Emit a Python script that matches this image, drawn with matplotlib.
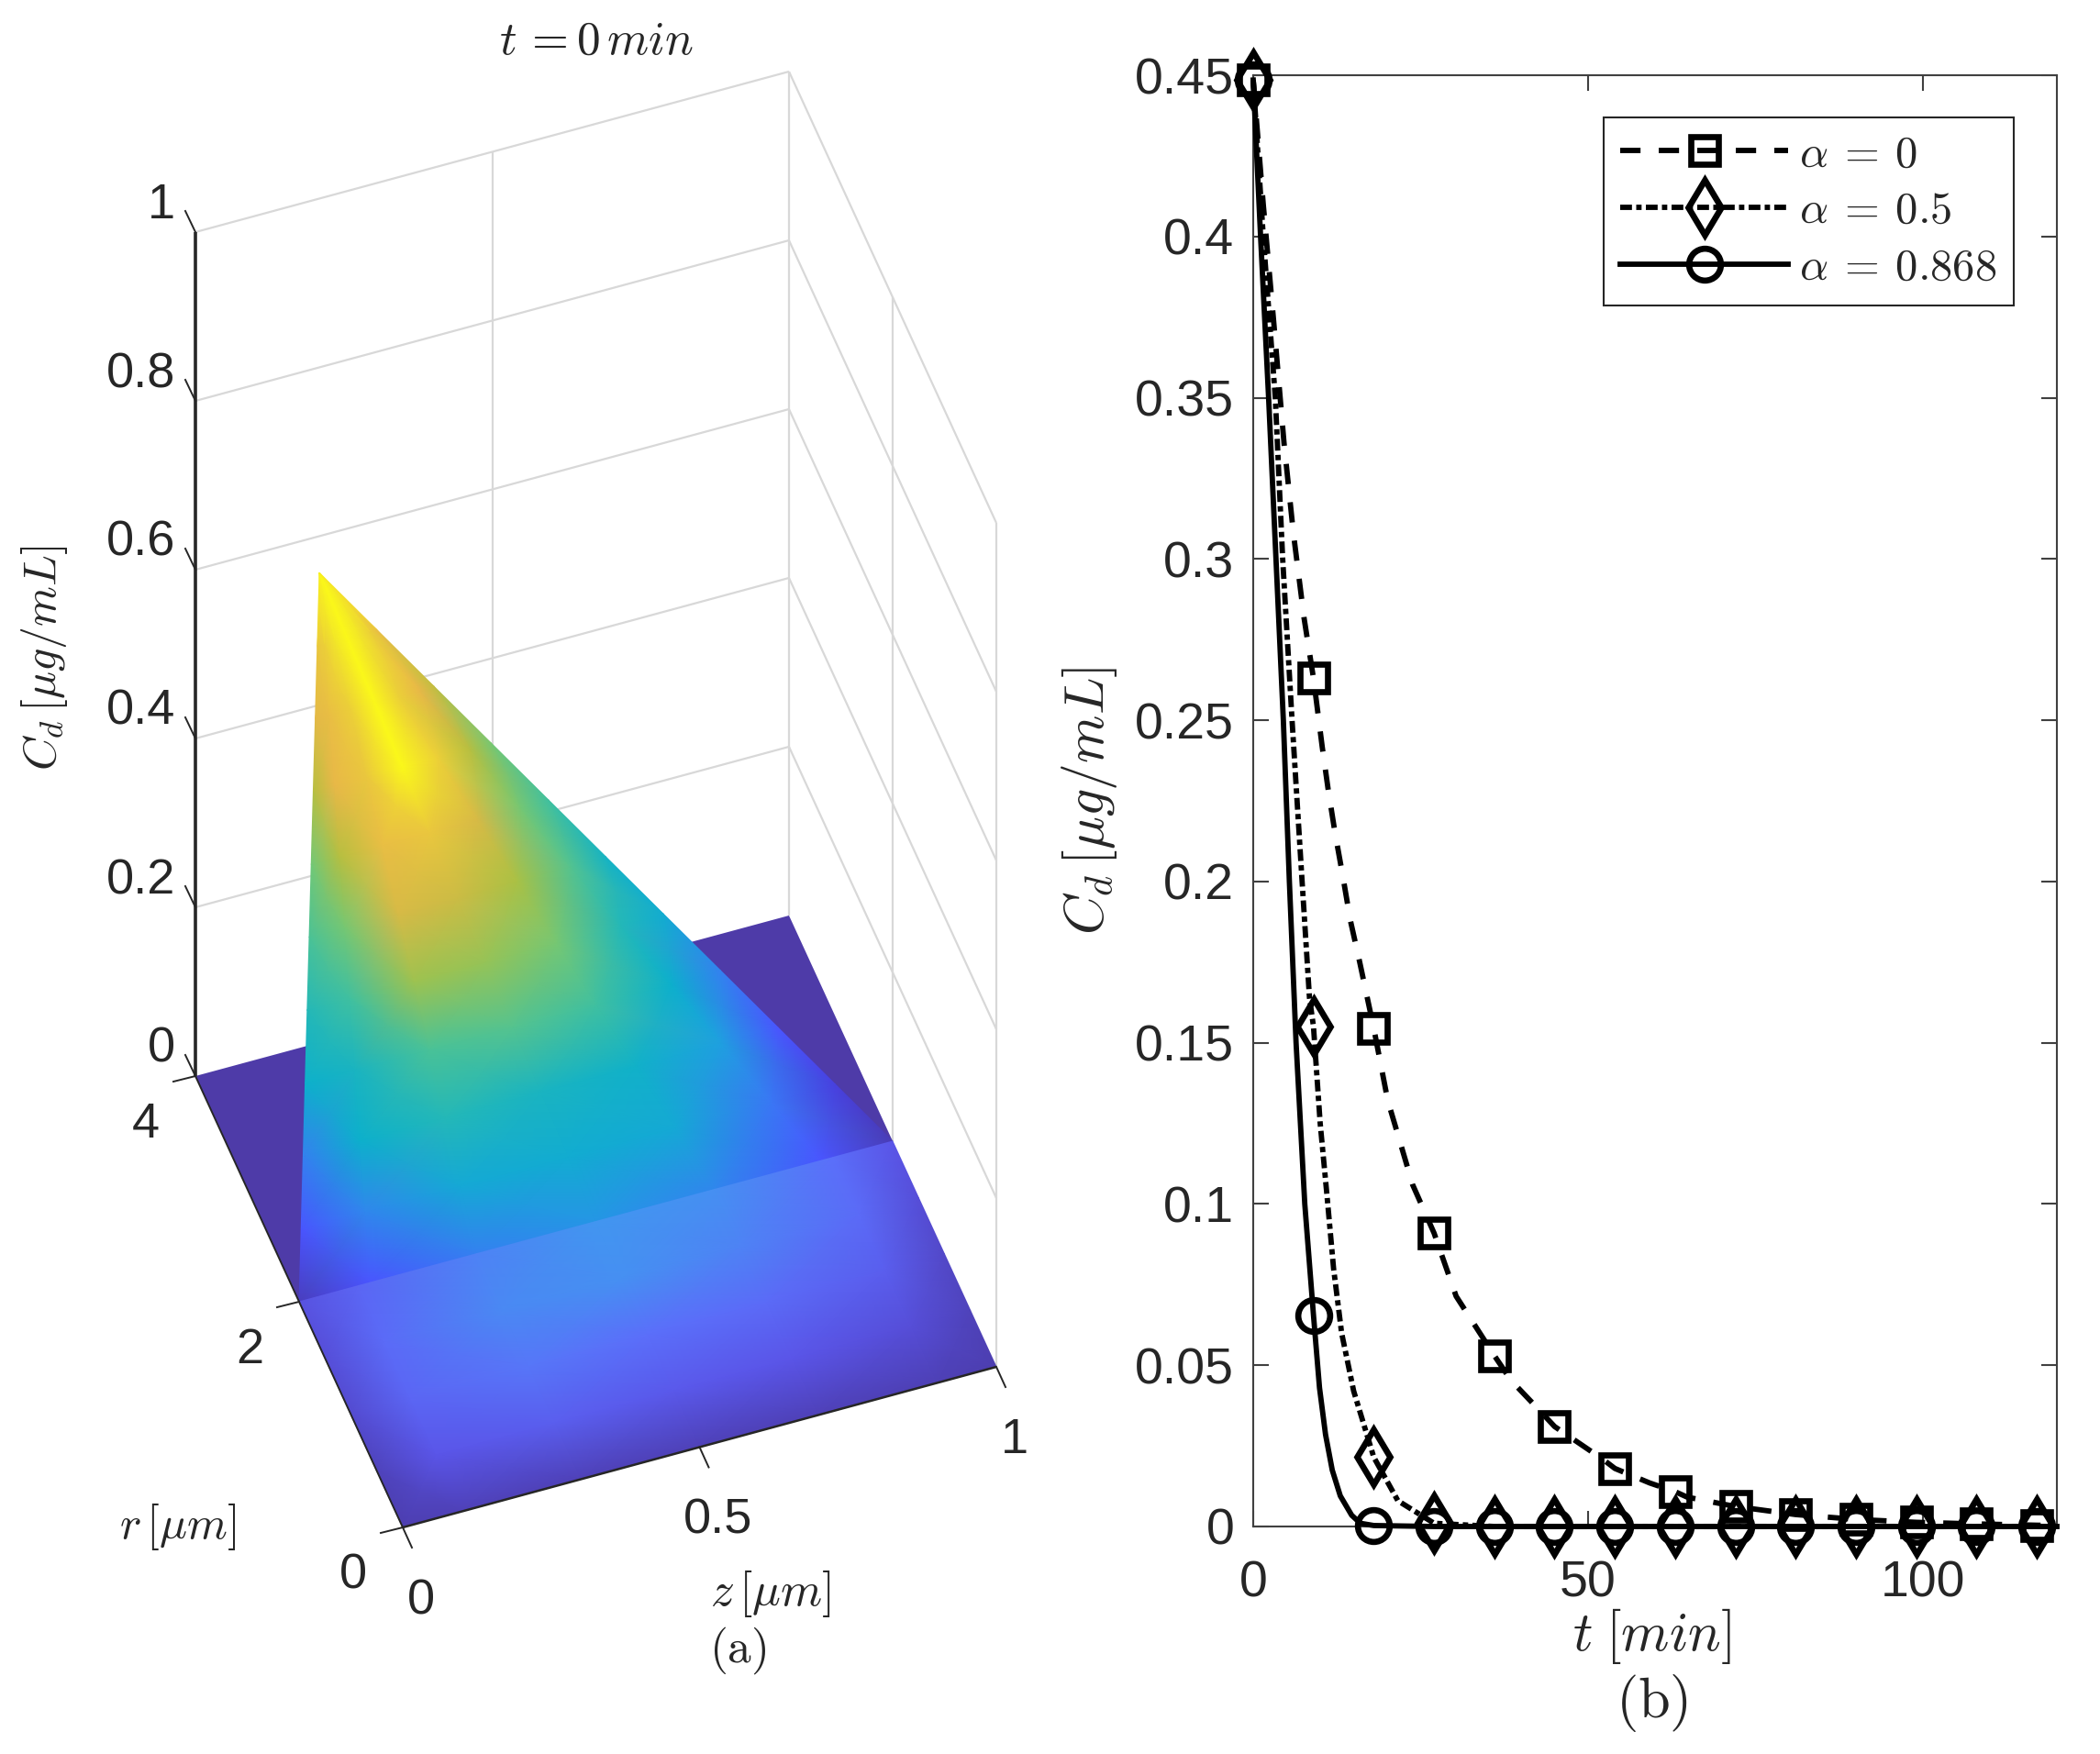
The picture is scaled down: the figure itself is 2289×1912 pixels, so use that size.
import matplotlib
matplotlib.use('Agg')
import matplotlib.pyplot as plt
import numpy as np
from matplotlib.colors import LinearSegmentedColormap

# --- panel (b) data ---
mark_t = [0, 9, 18, 27, 36, 45, 54, 63, 72, 81, 90, 99, 108, 117]

t_a0 = [0, 1.5, 3, 4.6, 6, 7.6, 9, 10.3, 11.2, 12.2, 13.4, 14.5, 15.9, 18, 20.1, 21.9, 23.8, 27,
        30.3, 36, 38.5, 42.8, 45, 52.3, 54, 59.2, 63, 64.8, 72, 81, 90, 99, 108, 117, 120]
c_a0 = [0.4485, 0.41, 0.375, 0.336, 0.308, 0.2816, 0.263, 0.2418, 0.2284, 0.2153, 0.2014, 0.188, 0.175, 0.1545,
        0.132, 0.1194, 0.106, 0.091, 0.0714, 0.053, 0.0453, 0.0359, 0.031, 0.0207, 0.018, 0.0135, 0.0108,
        0.0091, 0.0062, 0.0037, 0.0022, 0.0013, 0.0008, 0.0004, 0.0003]

t_a05 = [0, 1.5, 3.3, 4.4, 5.8, 7.3, 8.4, 9, 10, 11, 12, 13.2, 15, 16.9, 18, 21.6, 27,
         36, 45, 54, 63, 72, 81, 90, 99, 108, 117, 120]
c_a05 = [0.4485, 0.40, 0.35, 0.30, 0.25, 0.20, 0.164, 0.155, 0.125, 0.103, 0.08, 0.06, 0.042, 0.029, 0.0215, 0.008, 0.001,
         0, 0, 0, 0, 0, 0, 0, 0, 0, 0, 0]

t_a087 = [0, 1.1, 2.3, 3.4, 4.5, 5.4, 6.4, 7.7, 9, 9.9, 10.8, 11.8, 13, 14.7, 16, 18, 27,
          36, 45, 54, 63, 72, 81, 90, 99, 108, 117, 120]
c_a087 = [0.4485, 0.40, 0.35, 0.30, 0.25, 0.20, 0.15, 0.10, 0.0655, 0.043, 0.0285, 0.0175, 0.0095, 0.0035, 0.001, 0.0003, 0,
          0, 0, 0, 0, 0, 0, 0, 0, 0, 0, 0]

y_ticks = [0, 0.05, 0.1, 0.15, 0.2, 0.25, 0.3, 0.35, 0.4, 0.45]
y_tick_labels = ['0', '0.05', '0.1', '0.15', '0.2', '0.25', '0.3', '0.35', '0.4', '0.45']
x_ticks = [0, 50, 100]

# --- panel (a) surface ---
# raised part: rows go from the r=2 base up to the peak, columns across the base
peak_t = [0, 0.1, 0.2, 0.3, 0.4, 0.5, 0.6, 0.7, 0.8, 0.9, 1]
peak_w = [0, 0.12, 0.3, 0.5, 0.7, 0.88, 1]
peak_levels = [
    [.05, .20, .32, .36, .33, .20, .03],
    [.20, .33, .42, .43, .42, .30, .12],
    [.32, .45, .50, .48, .46, .38, .20],
    [.45, .48, .58, .60, .56, .45, .32],
    [.50, .56, .72, .71, .66, .50, .43],
    [.58, .66, .82, .80, .74, .60, .47],
    [.65, .76, .86, .88, .82, .66, .56],
    [.76, .85, .88, 1.0, .90, .76, .66],
    [.84, .86, .90, 1.0, .90, .85, .78],
    [.88, .90, .95, 1.0, .95, .90, .86],
    [1.0, 1.0, 1.0, 1.0, 1.0, 1.0, 1.0],
]
peak_z, peak_r, peak_c = 0.0, 1.61, 0.916

# flat front part, r from 2 down to 0
front_r = [2, 1.5, 1, 0.5, 0]
front_z = [0, 0.1, 0.3, 0.5, 0.7, 0.9, 1]
front_levels = [
    [.35, .60, .85, 1.0, .95, .70, .40],
    [.30, .65, .90, .95, .85, .65, .30],
    [.25, .60, .75, .70, .65, .50, .20],
    [.12, .40, .50, .45, .40, .30, .12],
    [.05, .10, .10, .10, .10, .08, .05],
]

c_grid = [0.2, 0.4, 0.6, 0.8, 1]
c_ticks = [0, 0.2, 0.4, 0.6, 0.8, 1]
c_tick_labels = ['0', '0.2', '0.4', '0.6', '0.8', '1']
r_ticks = [0, 2, 4]
z_ticks = [0, 0.5, 1]
z_tick_labels = ['0', '0.5', '1']

W, H = 2289, 1912
DARK = '#262626'
GRID = '#d8d8d8'
FLOOR = '#4e3ba8'

plt.rcParams['font.family'] = ['Liberation Sans', 'DejaVu Sans']
plt.rcParams['mathtext.fontset'] = 'cm'

peak_cmap = LinearSegmentedColormap.from_list('peak', [
    (0.0, '#4b3ba8'), (0.12, '#4840e0'), (0.2, '#4a55ff'), (0.3, '#3a78f5'),
    (0.38, '#1fa0e0'), (0.45, '#0db0cc'), (0.55, '#3abfa5'), (0.65, '#70c878'),
    (0.75, '#b0c040'), (0.85, '#e8b848'), (0.93, '#eedd30'), (1.0, '#fbf81a')])
front_cmap = LinearSegmentedColormap.from_list('front', [
    (0.0, '#4b3ba8'), (0.4, '#5a55e8'), (0.7, '#5b6ffa'), (1.0, '#4296f0')])


def project(z, r, c=0.0):
    """Fixed oblique view of the (z, r, C) box, in figure pixels."""
    z, r, c = np.asarray(z, float), np.asarray(r, float), np.asarray(c, float)
    return 439 + 647 * z - 226 * r / 4, 1665 - 175 * z - 123 * r - 920 * c


fig = plt.figure(figsize=(W / 100, H / 100), dpi=100, facecolor='white')

# panel (a), the axes spans the figure in pixel units
ax3d = fig.add_axes([0, 0, 1, 1])
ax3d.set_xlim(0, W)
ax3d.set_ylim(H, 0)
ax3d.axis('off')


def edge(p0, p1, **kw):
    x0, y0 = project(*p0)
    x1, y1 = project(*p1)
    ax3d.plot([x0, x1], [y0, y1], solid_capstyle='butt', **kw)


# walls, behind the surface
for c in c_grid:
    edge((0, 4, c), (1, 4, c), color=GRID, lw=1.6, zorder=0.5)
    edge((1, 4, c), (1, 0, c), color=GRID, lw=1.6, zorder=0.5)
edge((0.5, 4, 0), (0.5, 4, 1), color=GRID, lw=1.6, zorder=0.5)
edge((1, 4, 0), (1, 4, 1), color=GRID, lw=1.6, zorder=0.5)
edge((1, 2, 0), (1, 2, 1), color=GRID, lw=1.6, zorder=0.5)
edge((1, 0, 0), (1, 0, 1), color=GRID, lw=1.6, zorder=0.5)

# back floor
fx, fy = project([0, 1, 1, 0], [4, 4, 2, 2])
ax3d.fill(fx, fy, color=FLOOR, lw=0, zorder=0.8)

# raised triangle
tt, ww = np.meshgrid(peak_t, peak_w, indexing='ij')
base_x, base_y = project(ww, 2.0)
apex_x, apex_y = project(peak_z, peak_r, peak_c)
ax3d.pcolormesh((1 - tt) * base_x + tt * apex_x, (1 - tt) * base_y + tt * apex_y,
                np.array(peak_levels), cmap=peak_cmap, vmin=0, vmax=1, shading='gouraud')

# front floor
zz, rr = np.meshgrid(front_z, front_r)
ax3d.pcolormesh(*project(zz, rr), np.array(front_levels), cmap=front_cmap,
                vmin=0, vmax=1, shading='gouraud')

# box edges and ticks
edge((0, 4, 0), (0, 4, 1), color=DARK, lw=2.6)
edge((0, 0), (1, 0), color=DARK, lw=1.8)
edge((0, 0), (0, 4), color=DARK, lw=1.4)

for c, lab in zip(c_ticks, c_tick_labels):
    x, y = project(0, 4, c)
    ax3d.plot([x, x - 11], [y, y - 23], color=DARK, lw=1.4)
    ax3d.text(x - 22, y - 29, lab, ha='right', va='center', fontsize=39, color=DARK)
for r in r_ticks:
    x, y = project(0, r)
    ax3d.plot([x, x - 24], [y, y + 6], color=DARK, lw=1.4)
    ax3d.text(x - 54, y + 53, str(r), ha='center', va='center', fontsize=39, color=DARK)
for z, lab in zip(z_ticks, z_tick_labels):
    x, y = project(z, 0)
    ax3d.plot([x, x + 10], [y, y + 22], color=DARK, lw=1.4)
    ax3d.text(x + 20, y + 80, lab, ha='center', va='center', fontsize=39, color=DARK)

ax3d.text(48, 717, r'$C_d\,[\mu g/mL]$', rotation=90, ha='center', va='center', fontsize=36, color=DARK)
ax3d.text(194, 1664, r'$r\,[\mu m]$', ha='center', va='center', fontsize=36, color=DARK)
ax3d.text(840, 1737, r'$z\,[\mu m]$', ha='center', va='center', fontsize=37, color=DARK)
ax3d.text(650, 45, r'$t\,=0\,min$', ha='center', va='center', fontsize=37, color=DARK)
ax3d.text(804, 1799, r'$\mathrm{(a)}$', ha='center', va='center', fontsize=37, color=DARK)

# panel (b)
ax = fig.add_axes([1366 / W, 1 - 1664 / H, 876 / W, 1582 / H], facecolor='none')

series = [
    (t_a0, c_a0, 's', 21.5, (0, (3.8, 3.4)), r'$\alpha\:=\:0$'),
    (t_a05, c_a05, 'd', 31, (0, (2.2, 0.8, 1.0, 0.8)), r'$\alpha\:=\:0.5$'),
    (t_a087, c_a087, 'o', 25, '-', r'$\alpha\:=\:0.868$'),
]
for t, c, mk, ms, ls, lab in series:
    every = list(np.flatnonzero(np.isin(t, mark_t)))
    ax.plot(t, c, color='black', lw=4.2, ls=ls, marker=mk, ms=ms, mfc='none', mew=4.8,
            markevery=every, clip_on=False, label=lab, zorder=3, dash_capstyle='butt')

ax.set_xlim(0, 120)
ax.set_ylim(0, 0.45)
ax.set_xticks(x_ticks)
ax.set_yticks(y_ticks)
ax.set_yticklabels(y_tick_labels)
ax.tick_params(axis='both', direction='in', length=12, width=1.5, color='#404040',
               labelcolor=DARK, labelsize=40, top=True, right=True)
ax.tick_params(axis='x', pad=26)
ax.tick_params(axis='y', pad=15)
for spine in ax.spines.values():
    spine.set_linewidth(1.5)
    spine.set_color('#404040')

leg = ax.legend(loc='upper left', bbox_to_anchor=((1748 - 1366) / 876, 1 - (128 - 82) / 1582),
                borderaxespad=0, fontsize=35, numpoints=1, fancybox=False, framealpha=1,
                edgecolor=DARK, handlelength=3.75, handletextpad=0.25, labelspacing=0.34,
                borderpad=0.38)
leg.get_frame().set_linewidth(1.5)
for text in leg.get_texts():
    text.set_color(DARK)

fig.text(1187 / W, 1 - 873 / H, r'$C_d\,[\mu g/mL]$', rotation=90, ha='center', va='center',
         fontsize=43, color=DARK)
fig.text(1800 / W, 1 - 1784 / H, r'$t\;[min]$', ha='center', va='center', fontsize=43, color=DARK)
fig.text(1801 / W, 1 - 1857 / H, r'$\mathrm{(b)}$', ha='center', va='center', fontsize=45, color=DARK)

fig.savefig('out.png', dpi=100)
